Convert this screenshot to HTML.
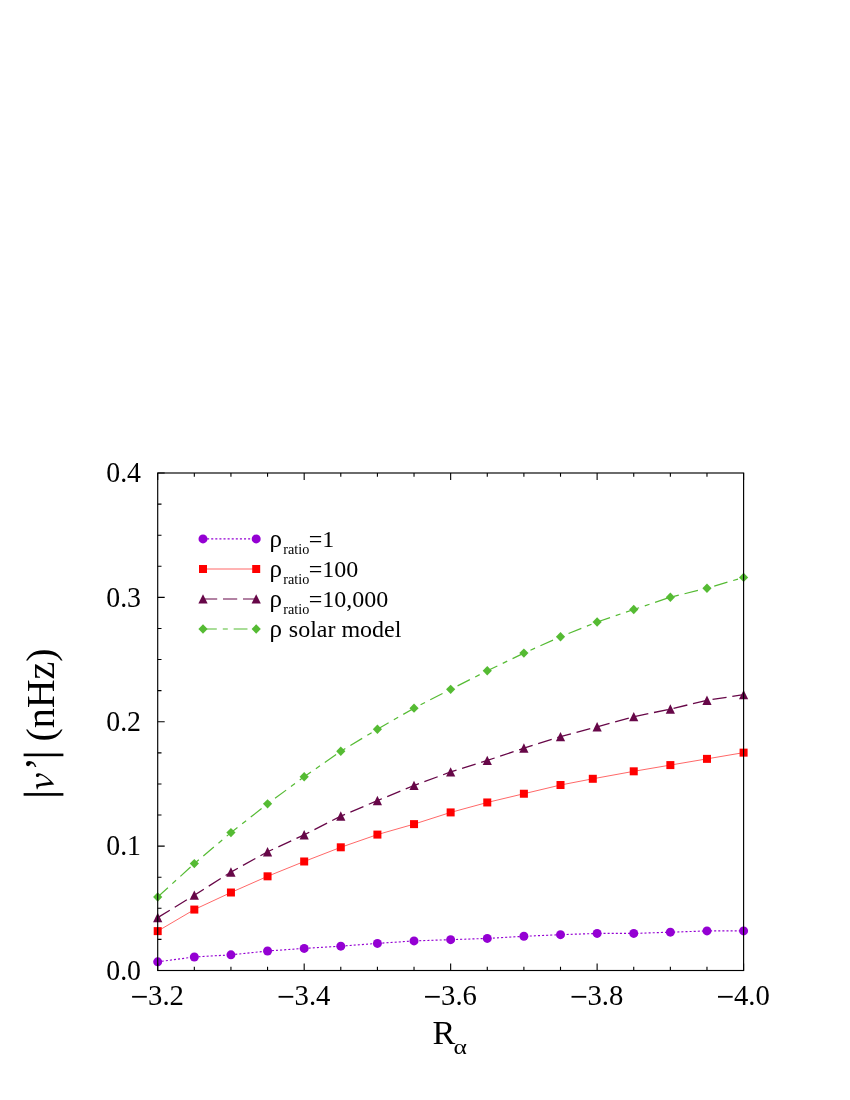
<!DOCTYPE html>
<html><head><meta charset="utf-8"><title>chart</title>
<style>html,body{margin:0;padding:0;background:#fff}body{width:850px;height:1100px;position:relative;overflow:hidden;font-family:"Liberation Serif",serif}</style>
</head><body>
<svg width="850" height="1100" viewBox="0 0 850 1100" style="position:absolute;left:0;top:0;will-change:transform">
<polyline points="157.70,961.83 194.32,956.97 230.94,954.86 267.56,951.00 304.18,948.38 340.79,946.14 377.41,943.40 414.03,940.91 450.65,939.66 487.27,938.42 523.89,936.30 560.51,934.68 597.12,933.44 633.74,933.44 670.36,932.19 706.98,930.94 743.60,930.94" fill="none" stroke="#9400D3" stroke-width="1.15" stroke-dasharray="2.05 2.05"/>
<polyline points="157.70,931.12 194.32,909.57 230.94,892.51 267.56,876.32 304.18,861.49 340.79,847.30 377.41,834.59 414.03,824.13 450.65,812.42 487.27,802.46 523.89,793.74 560.51,785.02 592.80,778.79 633.74,771.32 670.36,765.09 706.98,758.87 743.60,752.64" fill="none" stroke="#FF0000" stroke-width="0.6"/>
<polyline points="157.70,917.67 194.32,895.25 230.94,872.08 267.56,851.78 304.18,834.84 340.79,816.16 377.41,800.59 414.03,785.52 450.65,771.94 487.27,760.48 523.89,748.15 560.51,736.70 597.12,726.86 633.74,716.77 670.36,709.05 706.98,700.33 743.60,694.72" fill="none" stroke="#670748" stroke-width="1.3" stroke-dasharray="14.2 5.8"/>
<polyline points="157.70,896.99 194.32,863.61 230.94,832.60 267.56,803.83 304.18,776.80 340.79,751.27 377.41,729.22 414.03,708.17 450.65,689.37 487.27,670.81 523.89,653.12 560.51,636.81 597.12,621.98 633.74,609.53 670.36,597.20 706.98,588.23 743.60,577.40" fill="none" stroke="#55BB33" stroke-width="1.2" stroke-dasharray="13.8 6 5 5.88"/>
<circle cx="157.70" cy="961.83" r="4.5" fill="#9400D3"/>
<circle cx="194.32" cy="956.97" r="4.5" fill="#9400D3"/>
<circle cx="230.94" cy="954.86" r="4.5" fill="#9400D3"/>
<circle cx="267.56" cy="951.00" r="4.5" fill="#9400D3"/>
<circle cx="304.18" cy="948.38" r="4.5" fill="#9400D3"/>
<circle cx="340.79" cy="946.14" r="4.5" fill="#9400D3"/>
<circle cx="377.41" cy="943.40" r="4.5" fill="#9400D3"/>
<circle cx="414.03" cy="940.91" r="4.5" fill="#9400D3"/>
<circle cx="450.65" cy="939.66" r="4.5" fill="#9400D3"/>
<circle cx="487.27" cy="938.42" r="4.5" fill="#9400D3"/>
<circle cx="523.89" cy="936.30" r="4.5" fill="#9400D3"/>
<circle cx="560.51" cy="934.68" r="4.5" fill="#9400D3"/>
<circle cx="597.12" cy="933.44" r="4.5" fill="#9400D3"/>
<circle cx="633.74" cy="933.44" r="4.5" fill="#9400D3"/>
<circle cx="670.36" cy="932.19" r="4.5" fill="#9400D3"/>
<circle cx="706.98" cy="930.94" r="4.5" fill="#9400D3"/>
<circle cx="743.60" cy="930.94" r="4.5" fill="#9400D3"/>
<rect x="153.70" y="927.12" width="8" height="8" fill="#FF0000"/>
<rect x="190.32" y="905.57" width="8" height="8" fill="#FF0000"/>
<rect x="226.94" y="888.51" width="8" height="8" fill="#FF0000"/>
<rect x="263.56" y="872.32" width="8" height="8" fill="#FF0000"/>
<rect x="300.18" y="857.49" width="8" height="8" fill="#FF0000"/>
<rect x="336.79" y="843.30" width="8" height="8" fill="#FF0000"/>
<rect x="373.41" y="830.59" width="8" height="8" fill="#FF0000"/>
<rect x="410.03" y="820.13" width="8" height="8" fill="#FF0000"/>
<rect x="446.65" y="808.42" width="8" height="8" fill="#FF0000"/>
<rect x="483.27" y="798.46" width="8" height="8" fill="#FF0000"/>
<rect x="519.89" y="789.74" width="8" height="8" fill="#FF0000"/>
<rect x="556.51" y="781.02" width="8" height="8" fill="#FF0000"/>
<rect x="588.80" y="774.79" width="8" height="8" fill="#FF0000"/>
<rect x="629.74" y="767.32" width="8" height="8" fill="#FF0000"/>
<rect x="666.36" y="761.09" width="8" height="8" fill="#FF0000"/>
<rect x="702.98" y="754.87" width="8" height="8" fill="#FF0000"/>
<rect x="739.60" y="748.64" width="8" height="8" fill="#FF0000"/>
<path d="M157.70,912.87 L162.30,922.27 L153.10,922.27Z" fill="#670748"/>
<path d="M194.32,890.45 L198.92,899.85 L189.72,899.85Z" fill="#670748"/>
<path d="M230.94,867.28 L235.54,876.68 L226.34,876.68Z" fill="#670748"/>
<path d="M267.56,846.98 L272.16,856.38 L262.96,856.38Z" fill="#670748"/>
<path d="M304.18,830.04 L308.78,839.44 L299.57,839.44Z" fill="#670748"/>
<path d="M340.79,811.36 L345.39,820.76 L336.19,820.76Z" fill="#670748"/>
<path d="M377.41,795.79 L382.01,805.19 L372.81,805.19Z" fill="#670748"/>
<path d="M414.03,780.72 L418.63,790.12 L409.43,790.12Z" fill="#670748"/>
<path d="M450.65,767.14 L455.25,776.54 L446.05,776.54Z" fill="#670748"/>
<path d="M487.27,755.68 L491.87,765.08 L482.67,765.08Z" fill="#670748"/>
<path d="M523.89,743.35 L528.49,752.75 L519.29,752.75Z" fill="#670748"/>
<path d="M560.51,731.90 L565.11,741.30 L555.91,741.30Z" fill="#670748"/>
<path d="M597.12,722.06 L601.73,731.46 L592.52,731.46Z" fill="#670748"/>
<path d="M633.74,711.97 L638.34,721.37 L629.14,721.37Z" fill="#670748"/>
<path d="M670.36,704.25 L674.96,713.65 L665.76,713.65Z" fill="#670748"/>
<path d="M706.98,695.53 L711.58,704.93 L702.38,704.93Z" fill="#670748"/>
<path d="M743.60,689.92 L748.20,699.32 L739.00,699.32Z" fill="#670748"/>
<path d="M157.70,892.29 L162.30,896.99 L157.70,901.69 L153.10,896.99Z" fill="#55BB33"/>
<path d="M194.32,858.91 L198.92,863.61 L194.32,868.31 L189.72,863.61Z" fill="#55BB33"/>
<path d="M230.94,827.90 L235.54,832.60 L230.94,837.30 L226.34,832.60Z" fill="#55BB33"/>
<path d="M267.56,799.13 L272.16,803.83 L267.56,808.53 L262.96,803.83Z" fill="#55BB33"/>
<path d="M304.18,772.10 L308.78,776.80 L304.18,781.50 L299.57,776.80Z" fill="#55BB33"/>
<path d="M340.79,746.57 L345.39,751.27 L340.79,755.97 L336.19,751.27Z" fill="#55BB33"/>
<path d="M377.41,724.52 L382.01,729.22 L377.41,733.92 L372.81,729.22Z" fill="#55BB33"/>
<path d="M414.03,703.47 L418.63,708.17 L414.03,712.87 L409.43,708.17Z" fill="#55BB33"/>
<path d="M450.65,684.67 L455.25,689.37 L450.65,694.07 L446.05,689.37Z" fill="#55BB33"/>
<path d="M487.27,666.11 L491.87,670.81 L487.27,675.51 L482.67,670.81Z" fill="#55BB33"/>
<path d="M523.89,648.42 L528.49,653.12 L523.89,657.82 L519.29,653.12Z" fill="#55BB33"/>
<path d="M560.51,632.11 L565.11,636.81 L560.51,641.51 L555.91,636.81Z" fill="#55BB33"/>
<path d="M597.12,617.28 L601.73,621.98 L597.12,626.68 L592.52,621.98Z" fill="#55BB33"/>
<path d="M633.74,604.83 L638.34,609.53 L633.74,614.23 L629.14,609.53Z" fill="#55BB33"/>
<path d="M670.36,592.50 L674.96,597.20 L670.36,601.90 L665.76,597.20Z" fill="#55BB33"/>
<path d="M706.98,583.53 L711.58,588.23 L706.98,592.93 L702.38,588.23Z" fill="#55BB33"/>
<path d="M743.60,572.70 L748.20,577.40 L743.60,582.10 L739.00,577.40Z" fill="#55BB33"/>
<line x1="203.0" y1="538.9" x2="256.2" y2="538.9" stroke="#9400D3" stroke-width="1.15" stroke-dasharray="2.05 2.05"/>
<line x1="203.0" y1="569.0" x2="256.2" y2="569.0" stroke="#FF0000" stroke-width="0.6"/>
<line x1="203.0" y1="599.0" x2="256.2" y2="599.0" stroke="#670748" stroke-width="1.1" stroke-dasharray="14.2 5.8"/>
<line x1="203.0" y1="629.0" x2="256.2" y2="629.0" stroke="#55BB33" stroke-width="1.1" stroke-dasharray="13.8 6 5 5.88"/>
<circle cx="203.00" cy="538.90" r="4.5" fill="#9400D3"/>
<rect x="199.00" y="565.00" width="8" height="8" fill="#FF0000"/>
<path d="M203.00,594.20 L207.60,603.60 L198.40,603.60Z" fill="#670748"/>
<path d="M203.00,624.30 L207.60,629.00 L203.00,633.70 L198.40,629.00Z" fill="#55BB33"/>
<circle cx="256.20" cy="538.90" r="4.5" fill="#9400D3"/>
<rect x="252.20" y="565.00" width="8" height="8" fill="#FF0000"/>
<path d="M256.20,594.20 L260.80,603.60 L251.60,603.60Z" fill="#670748"/>
<path d="M256.20,624.30 L260.80,629.00 L256.20,633.70 L251.60,629.00Z" fill="#55BB33"/>
<rect x="157.7" y="473.0" width="585.90" height="497.50" fill="none" stroke="#000" stroke-width="1.15"/>
<path d="M157.70,970.5 v-7 M157.70,473.0 v7 M157.7,473.00 h7 M194.32,970.5 v-3.8 M194.32,473.0 v3.8 M157.7,504.09 h3.8 M230.94,970.5 v-3.8 M230.94,473.0 v3.8 M157.7,535.19 h3.8 M267.56,970.5 v-3.8 M267.56,473.0 v3.8 M157.7,566.28 h3.8 M304.18,970.5 v-7 M304.18,473.0 v7 M157.7,597.38 h7 M340.79,970.5 v-3.8 M340.79,473.0 v3.8 M157.7,628.47 h3.8 M377.41,970.5 v-3.8 M377.41,473.0 v3.8 M157.7,659.56 h3.8 M414.03,970.5 v-3.8 M414.03,473.0 v3.8 M157.7,690.66 h3.8 M450.65,970.5 v-7 M450.65,473.0 v7 M157.7,721.75 h7 M487.27,970.5 v-3.8 M487.27,473.0 v3.8 M157.7,752.84 h3.8 M523.89,970.5 v-3.8 M523.89,473.0 v3.8 M157.7,783.94 h3.8 M560.51,970.5 v-3.8 M560.51,473.0 v3.8 M157.7,815.03 h3.8 M597.12,970.5 v-7 M597.12,473.0 v7 M157.7,846.12 h7 M633.74,970.5 v-3.8 M633.74,473.0 v3.8 M157.7,877.22 h3.8 M670.36,970.5 v-3.8 M670.36,473.0 v3.8 M157.7,908.31 h3.8 M706.98,970.5 v-3.8 M706.98,473.0 v3.8 M157.7,939.41 h3.8 M743.60,970.5 v-7 M743.60,473.0 v7 M157.7,970.50 h7" stroke="#000" stroke-width="1.1" fill="none"/>
<rect x="132.10" y="995.9" width="14.7" height="1.8" fill="#000"/>
<text transform="translate(148.10,1004.8) scale(1,1.06)" font-size="28.7" font-family="Liberation Serif, serif">3.2</text>
<rect x="278.57" y="995.9" width="14.7" height="1.8" fill="#000"/>
<text transform="translate(294.57,1004.8) scale(1,1.06)" font-size="28.7" font-family="Liberation Serif, serif">3.4</text>
<rect x="425.05" y="995.9" width="14.7" height="1.8" fill="#000"/>
<text transform="translate(441.05,1004.8) scale(1,1.06)" font-size="28.7" font-family="Liberation Serif, serif">3.6</text>
<rect x="571.52" y="995.9" width="14.7" height="1.8" fill="#000"/>
<text transform="translate(587.52,1004.8) scale(1,1.06)" font-size="28.7" font-family="Liberation Serif, serif">3.8</text>
<rect x="718.00" y="995.9" width="14.7" height="1.8" fill="#000"/>
<text transform="translate(734.00,1004.8) scale(1,1.06)" font-size="28.7" font-family="Liberation Serif, serif">4.0</text>
<text transform="translate(141.0,482.30) scale(1,1.05)" font-size="27.8" text-anchor="end" font-family="Liberation Serif, serif">0.4</text>
<text transform="translate(141.0,606.67) scale(1,1.05)" font-size="27.8" text-anchor="end" font-family="Liberation Serif, serif">0.3</text>
<text transform="translate(141.0,731.05) scale(1,1.05)" font-size="27.8" text-anchor="end" font-family="Liberation Serif, serif">0.2</text>
<text transform="translate(141.0,855.42) scale(1,1.05)" font-size="27.8" text-anchor="end" font-family="Liberation Serif, serif">0.1</text>
<text transform="translate(141.0,979.80) scale(1,1.05)" font-size="27.8" text-anchor="end" font-family="Liberation Serif, serif">0.0</text>
<text transform="translate(432.6,1043.7) scale(1.07,1.04)" font-size="32" font-family="Liberation Serif, serif">R</text>
<text transform="translate(453.5,1053.8) scale(1.28,1.08)" font-size="20" font-family="Liberation Serif, serif">α</text>
<rect x="23.6" y="793.10" width="39.8" height="2.6" fill="#000"/>
<rect x="23.6" y="753.60" width="39.8" height="2.6" fill="#000"/>
<path transform="translate(30,768) scale(0.0353)" fill="#000" d="M168,468 C300,438 450,412 575,400 C550,362 462,282 380,232 C338,206 300,198 268,204 C262,235 240,256 212,256 C182,256 166,232 167,205 C168,170 198,148 240,150 C300,152 380,190 470,255 C560,322 640,410 688,466 C600,474 450,488 335,506 C280,515 245,525 232,545 C222,565 215,590 208,612 L196,612 C186,565 172,520 168,468 Z"/>
<text transform="translate(52.2,770.5) rotate(-90)" font-size="40" font-family="Liberation Serif, serif">’</text>
<text transform="translate(53.6,741.6) rotate(-90)" font-size="40" font-family="Liberation Serif, serif">(nHz)</text>
<text y="547.20" font-size="24" font-family="Liberation Serif, serif"><tspan x="269.5" font-size="25">ρ</tspan><tspan x="283.3" font-size="14.2" dy="6.3">ratio</tspan><tspan x="308.8" dy="-6.3">=1</tspan></text>
<text y="577.30" font-size="24" font-family="Liberation Serif, serif"><tspan x="269.5" font-size="25">ρ</tspan><tspan x="283.3" font-size="14.2" dy="6.3">ratio</tspan><tspan x="308.8" dy="-6.3">=100</tspan></text>
<text y="607.30" font-size="24" font-family="Liberation Serif, serif"><tspan x="269.5" font-size="25">ρ</tspan><tspan x="283.3" font-size="14.2" dy="6.3">ratio</tspan><tspan x="308.8" dy="-6.3">=10,000</tspan></text>
<text y="637.30" font-size="24" font-family="Liberation Serif, serif"><tspan x="269.5" font-size="25">ρ</tspan><tspan x="288.8">solar model</tspan></text>
</svg>
</body></html>
